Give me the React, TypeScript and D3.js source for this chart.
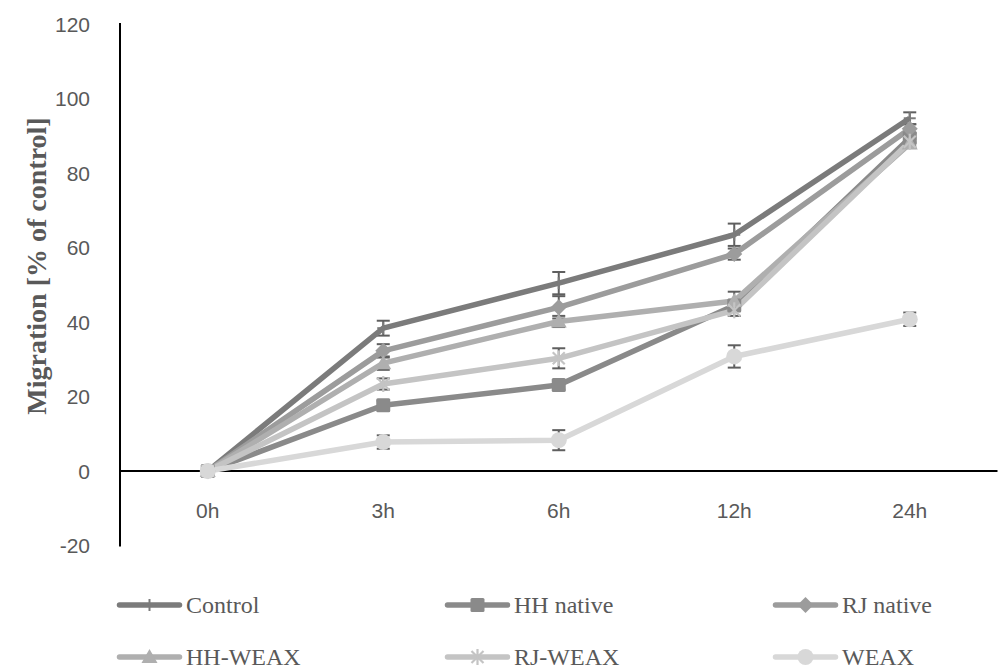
import React from "react";
import * as d3 from "d3";

const categories = ["0h", "3h", "6h", "12h", "24h"];
const yTicks = [-20, 0, 20, 40, 60, 80, 100, 120];

const seriesNames = ["Control", "HH native", "RJ native", "HH-WEAX", "RJ-WEAX", "WEAX"];
const controlVals = [0, 38.4, 50.5, 63.5, 94.8];
const hhNativeVals = [0, 17.7, 23.1, 44.5, 89.5];
const rjNativeVals = [0, 32.3, 44.0, 58.3, 92.0];
const hhWeaxVals = [0, 29.0, 40.2, 45.7, 88.0];
const rjWeaxVals = [0, 23.4, 30.3, 43.2, 88.5];
const weaxVals = [0, 7.8, 8.3, 30.8, 40.8];

const controlErr = [0.5, 2.0, 3.0, 3.0, 1.6];
const hhNativeErr = [0.5, 1.2, 1.2, 1.5, 1.2];
const rjNativeErr = [0.5, 1.8, 3.0, 1.5, 1.2];
const hhWeaxErr = [0.5, 1.8, 1.5, 2.5, 1.2];
const rjWeaxErr = [0.5, 1.5, 2.7, 1.5, 1.2];
const weaxErr = [0.5, 1.8, 2.7, 3.0, 1.8];

const seriesColors = ["#7b7b7b", "#8a8a8a", "#9c9c9c", "#afafaf", "#c4c4c4", "#d8d8d8"];
const markerTypes = ["plus", "square", "diamond", "triangle", "star", "circle"];

const allVals = [controlVals, hhNativeVals, rjNativeVals, hhWeaxVals, rjWeaxVals, weaxVals];
const allErr = [controlErr, hhNativeErr, rjNativeErr, hhWeaxErr, rjWeaxErr, weaxErr];

function Marker({ type, x, y, color }: { type: string; x: number; y: number; color: string }) {
  if (type === "plus") {
    return (
      <g stroke={color} strokeWidth={2}>
        <line x1={x - 6} x2={x + 6} y1={y} y2={y} />
        <line x1={x} x2={x} y1={y - 6} y2={y + 6} />
      </g>
    );
  }
  if (type === "square") {
    return <rect x={x - 7} y={y - 7} width={14} height={14} rx={1.5} fill={color} />;
  }
  if (type === "diamond") {
    return <path d={`M${x},${y - 8}L${x + 8},${y}L${x},${y + 8}L${x - 8},${y}Z`} fill={color} />;
  }
  if (type === "triangle") {
    return <path d={`M${x},${y - 8}L${x + 8},${y + 6}L${x - 8},${y + 6}Z`} fill={color} />;
  }
  if (type === "star") {
    return (
      <g stroke={color} strokeWidth={2.2}>
        <line x1={x - 6} x2={x + 6} y1={y - 6} y2={y + 6} />
        <line x1={x - 6} x2={x + 6} y1={y + 6} y2={y - 6} />
        <line x1={x} x2={x} y1={y - 8} y2={y + 8} />
      </g>
    );
  }
  return <circle cx={x} cy={y} r={8} fill={color} />;
}

export default function App() {
  const W = 998;
  const H = 670;
  const x = d3.scaleBand<string>().domain(categories).range([120, 997.5]);
  const y = d3.scaleLinear().domain([-20, 120]).range([545.5, 24.5]);
  const cx = (c: string) => (x(c) as number) + x.bandwidth() / 2;
  const line = d3
    .line<number>()
    .x((_, i) => cx(categories[i]))
    .y((d) => y(d));

  const legendCols = [117, 445, 773];
  const legendRows = [605, 657];
  const tickColor = "#595959";

  return (
    <svg width={W} height={H} style={{ position: "absolute", left: 0, top: 0, background: "#fff" }}>
      {/* y tick labels */}
      {yTicks.map((t) => (
        <text
          key={t}
          x={90}
          y={y(t)}
          textAnchor="end"
          dominantBaseline="central"
          fontFamily="'Liberation Sans', Arial, sans-serif"
          fontSize={21}
          fill={tickColor}
        >
          {t}
        </text>
      ))}
      {/* x tick labels */}
      {categories.map((c) => (
        <text
          key={c}
          x={cx(c)}
          y={510}
          textAnchor="middle"
          dominantBaseline="central"
          fontFamily="'Liberation Sans', Arial, sans-serif"
          fontSize={21}
          fill={tickColor}
        >
          {c}
        </text>
      ))}
      {/* axes */}
      <line x1={120} x2={120} y1={y(120) - 1.5} y2={y(-20) + 1} stroke="#000" strokeWidth={2} />
      <line x1={120} x2={997.5} y1={y(0)} y2={y(0)} stroke="#000" strokeWidth={2} />
      {/* y axis title */}
      <text
        transform={`translate(36,266) rotate(-90)`}
        textAnchor="middle"
        dominantBaseline="central"
        fontFamily="'Liberation Serif', 'Times New Roman', serif"
        fontWeight="bold"
        fontSize={28}
        fill={tickColor}
      >
        Migration [% of control]
      </text>
      {/* error bars (behind series) */}
      {allVals.map((vals, si) =>
        vals.map((v, i) => {
          const e = allErr[si][i];
          const px = cx(categories[i]);
          const top = y(v + e);
          const bot = y(v - e);
          return (
            <g key={"e" + si + "-" + i} stroke="#5f5f5f" strokeWidth={2}>
              <line x1={px} x2={px} y1={top} y2={bot} />
              <line x1={px - 6.5} x2={px + 6.5} y1={top} y2={top} />
              <line x1={px - 6.5} x2={px + 6.5} y1={bot} y2={bot} />
            </g>
          );
        })
      )}
      {/* lines */}
      {allVals.map((vals, si) => (
        <path
          key={"l" + si}
          d={line(vals) || ""}
          fill="none"
          stroke={seriesColors[si]}
          strokeWidth={5.5}
          strokeLinejoin="round"
        />
      ))}
      {/* markers */}
      {allVals.map((vals, si) =>
        vals.map((v, i) => (
          <Marker key={"m" + si + "-" + i} type={markerTypes[si]} x={cx(categories[i])} y={y(v)} color={seriesColors[si]} />
        ))
      )}
      {/* legend */}
      {seriesNames.map((name, si) => {
        const col = si % 3;
        const row = Math.floor(si / 3);
        const lx = legendCols[col];
        const ly = legendRows[row];
        return (
          <g key={"lg" + si}>
            <line x1={lx + 2.5} x2={lx + 62.5} y1={ly} y2={ly} stroke={seriesColors[si]} strokeWidth={5.5} strokeLinecap="round" />
            <Marker type={markerTypes[si]} x={lx + 32.5} y={ly} color={seriesColors[si]} />
            <text
              x={lx + 69}
              y={ly}
              dominantBaseline="central"
              fontFamily="'Liberation Serif', 'Times New Roman', serif"
              fontSize={24}
              fill={tickColor}
            >
              {name}
            </text>
          </g>
        );
      })}
    </svg>
  );
}
